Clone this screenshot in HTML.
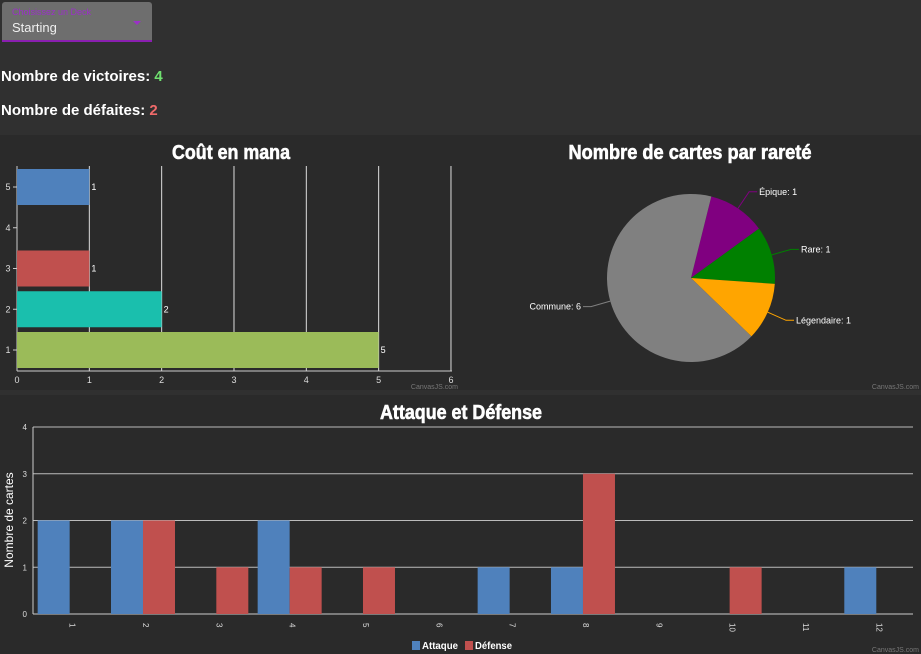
<!DOCTYPE html>
<html><head><meta charset="utf-8"><style>
body{margin:0;width:921px;height:654px;background:#303030;overflow:hidden;font-family:"Liberation Sans",sans-serif;position:relative}
.abs{position:absolute}
</style></head><body>
<div class="abs" style="left:2px;top:2px;width:150px;height:38px;background:#6e6e6e;border-bottom:2px solid #8a1fb0;border-radius:3px 3px 0 0">
 <div class="abs" style="left:10px;top:5px;font-size:9px;color:#9b30c8">Choisissez un Deck</div>
 <div class="abs" style="left:10px;top:18px;font-size:13px;color:#f0f0f0">Starting</div>
 <div class="abs" style="left:131px;top:19px;width:0;height:0;border-left:4px solid transparent;border-right:4px solid transparent;border-top:4px solid #9b30c8"></div>
</div>
<div class="abs" style="left:1px;top:68px;font-size:15px;font-weight:bold;color:#fff">Nombre de victoires: <span style="color:#6fe06f">4</span></div>
<div class="abs" style="left:1px;top:102px;font-size:15px;font-weight:bold;color:#fff">Nombre de défaites: <span style="color:#f06a6a">2</span></div>

<svg class="abs" style="left:0;top:0" width="921" height="654">
<rect x="0" y="135" width="460" height="255" fill="#2a2a2a"/>
<rect x="460" y="135" width="461" height="255" fill="#2a2a2a"/>
<rect x="0" y="395" width="921" height="259" fill="#2a2a2a"/>
<g id="mana"></g><g id="pie"></g><g id="atk"></g>
</svg>
<script>
const manaCats=[1,2,3,4,5];
const manaVals=[5,2,1,0,1];
const manaColors=["#9bbb59","#1abfad","#c0504e","#8064a2","#4f81bc"];
const manaTicks=[0,1,2,3,4,5,6];
const rarityLabels=["Épique","Rare","Légendaire","Commune"];
const rarityVals=[1,1,1,6];
const rarityColors=["#800080","#008000","#ffa500","#808080"];
const atkCats=[1,2,3,4,5,6,7,8,9,10,11,12];
const atkVals=[2,2,0,2,0,0,1,1,0,0,0,1];
const defVals=[0,2,1,1,1,0,0,3,0,1,0,0];
const atkYTicks=[0,1,2,3,4];
const NS="http://www.w3.org/2000/svg";
function mk(p,t,a,txt){const e=document.createElementNS(NS,t);for(const k in a)e.setAttribute(k,a[k]);if(txt!==undefined)e.textContent=txt;p.appendChild(e);return e;}
const TF='"Liberation Sans",sans-serif';
function title(g,x,y,len,txt){return mk(g,'text',{x:x,y:y,'text-anchor':'middle',fill:'#fff','font-size':20,'font-weight':'bold','font-family':TF,textLength:len,lengthAdjust:'spacingAndGlyphs',stroke:'#fff','stroke-width':0.6},txt);}
// mana chart
(function(){
const g=document.getElementById('mana');
const x=v=>17+v*72.33, y=v=>350-(v-1)*40.75;
title(g,231,159,118,'Coût en mana');
manaTicks.forEach(t=>{if(t>0){const l=mk(g,'line',{x1:x(t),x2:x(t),y1:166,y2:371,stroke:'#ddd','stroke-width':1});}
 const tl=mk(g,'text',{x:x(t),y:383,'text-anchor':'middle',fill:'#ddd','font-size':9},t);});
mk(g,'line',{x1:17,x2:452,y1:371,y2:371,stroke:'#ccc'});
mk(g,'line',{x1:17,x2:17,y1:166,y2:371,stroke:'#ccc'});
manaCats.forEach((c,i)=>{
 const tl=mk(g,'text',{x:8,y:y(c)+3,'text-anchor':'middle',fill:'#ddd','font-size':9},c);
 mk(g,'line',{x1:13,x2:17,y1:y(c),y2:y(c),stroke:'#ccc'});
 if(manaVals[i]>0){
  const r=mk(g,'rect',{x:x(0),y:y(c)-18,width:x(manaVals[i])-x(0),height:36,fill:manaColors[i]});
  
  
  mk(g,'text',{x:x(manaVals[i])+2,y:y(c)+3,fill:'#fff','font-size':9},manaVals[i]);
 }});
mk(g,'text',{x:458,y:389,'text-anchor':'end',fill:'#777','font-size':7},'CanvasJS.com');
})();
// pie
(function(){
const g=document.getElementById('pie');
title(g,690,159,243,'Nombre de cartes par rareté');
const cx=691,cy=278,R=84,tot=rarityVals.reduce((a,b)=>a+b,0);
let a=14*Math.PI/180;
const pt=(ang,r)=>[cx+r*Math.sin(ang),cy-r*Math.cos(ang)];
rarityVals.forEach((v,i)=>{
 const s=a,e=a+v/tot*2*Math.PI;a=e;
 const p1=pt(s,R),p2=pt(e,R),lg=(e-s)>Math.PI?1:0;
 const p=mk(g,'path',{d:`M${cx},${cy}L${p1[0]},${p1[1]}A${R},${R} 0 ${lg} 1 ${p2[0]},${p2[1]}Z`,fill:rarityColors[i]});
 
 
 const m=(s+e)/2,q1=pt(m,R),q2=pt(m,R+20),right=Math.sin(m)>=0;
 const q3=[q2[0]+(right?8:-8),q2[1]];
 mk(g,'polyline',{points:`${q1} ${q2} ${q3}`,fill:'none',stroke:rarityColors[i]});
 const t=mk(g,'text',{x:q3[0]+(right?2:-2),y:q3[1]+3,'text-anchor':right?'start':'end',fill:'#fff','font-size':9},rarityLabels[i]+': '+v);
 
});
mk(g,'text',{x:919,y:389,'text-anchor':'end',fill:'#777','font-size':7},'CanvasJS.com');
})();
// attack/defense
(function(){
const g=document.getElementById('atk');
const x=v=>33+(v-0.5)*73.33, y=v=>614-v*46.75;
title(g,461,419,162,'Attaque et Défense');
atkYTicks.forEach(t=>{
 mk(g,'line',{x1:33,x2:913,y1:y(t),y2:y(t),stroke:t?'#bbb':'#ccc'});
 mk(g,'text',{x:27,y:y(t)+3,'text-anchor':'end',fill:'#ddd','font-size':8},t);});
mk(g,'line',{x1:33,x2:33,y1:427,y2:614,stroke:'#ccc'});
const yl=mk(g,'text',{x:13,y:520,'text-anchor':'middle',fill:'#fff','font-size':12,transform:'rotate(-90 13 520)'},'Nombre de cartes');

atkCats.forEach((c,i)=>{
 const cx=x(c);
 const tl=mk(g,'text',{x:cx,y:623,fill:'#ddd','font-size':8,transform:`rotate(90 ${cx} 623)`},c);
 if(atkVals[i]>0){const r=mk(g,'rect',{x:cx-32,y:y(atkVals[i]),width:32,height:y(0)-y(atkVals[i]),fill:'#4f81bc'});
  
  }
 if(defVals[i]>0){const r=mk(g,'rect',{x:cx,y:y(defVals[i]),width:32,height:y(0)-y(defVals[i]),fill:'#c0504e'});
  
  }
});
const l1=mk(g,'rect',{x:412,y:641,width:8,height:9,fill:'#4f81bc'});
mk(g,'text',{x:422,y:649,fill:'#fff','font-size':10,'font-weight':'bold',textLength:36,lengthAdjust:'spacingAndGlyphs'},'Attaque');
const l2=mk(g,'rect',{x:465,y:641,width:8,height:9,fill:'#c0504e'});
mk(g,'text',{x:475,y:649,fill:'#fff','font-size':10,'font-weight':'bold',textLength:37,lengthAdjust:'spacingAndGlyphs'},'Défense');
mk(g,'text',{x:919,y:652,'text-anchor':'end',fill:'#777','font-size':7},'CanvasJS.com');
})();
</script>
</body></html>
